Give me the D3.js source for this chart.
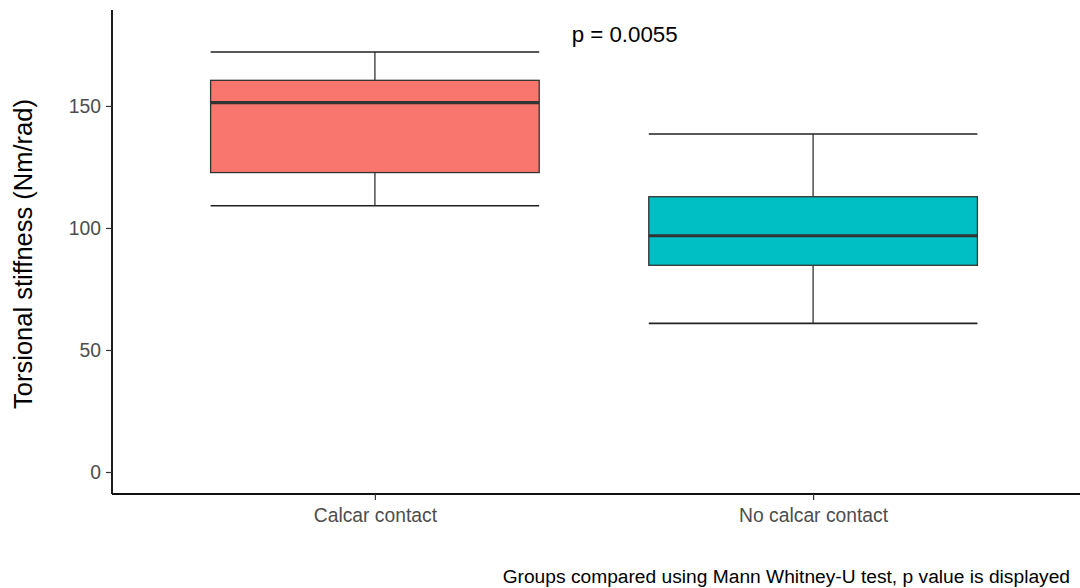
<!DOCTYPE html>
<html>
<head>
<meta charset="utf-8">
<script src="https://cdn.jsdelivr.net/npm/d3@7"></script>
<style>
  html, body { margin: 0; padding: 0; background: #fff; }
  svg { display: block; font-family: "Liberation Sans", Arial, sans-serif; }
</style>
</head>
<body>
<svg id="chart" width="1080" height="588"></svg>
<script>
// Box-plot summaries of torsional stiffness by group
const groups = ["Calcar contact", "No calcar contact"];
const lowerWhisker = [109.1, 60.9];
const q1 = [122.7, 84.7];
const median = [151.4, 96.8];
const q3 = [160.5, 112.8];
const upperWhisker = [172.1, 138.5];
const fills = ["#F8766D", "#00BFC4"];
const yTicks = [0, 50, 100, 150];
const pLabel = "p = 0.0055";
const pLabelPos = { x: 1.57, y: 176.4 };   // category units / data units (baseline)
const yTitle = "Torsional stiffness (Nm/rad)";
const caption = "Groups compared using Mann Whitney-U test, p value is displayed";

const svg = d3.select("#chart");
const plotLeft = 112, plotRight = 1076, plotTop = 10, plotBottom = 494;

// y range: data extent incl. 0 and label height, expanded 5%
const yMin = 0, yMax = 180.3, pad = (yMax - yMin) * 0.05;
const y = d3.scaleLinear().domain([yMin - pad, yMax + pad]).range([plotBottom, plotTop]);

// discrete x: categories at 1..n with 0.6 expansion each side
const xc = d3.scaleLinear().domain([0.4, groups.length + 0.6]).range([plotLeft, plotRight]);
const x = d3.scalePoint().domain(groups).range([xc(1), xc(groups.length)]);
const boxW = xc(1.375) - xc(1);

const g = svg.append("g");

groups.forEach((grp, i) => {
  const cx = x(grp);
  // whisker stems
  g.append("line").attr("x1", cx).attr("x2", cx)
    .attr("y1", y(upperWhisker[i])).attr("y2", y(q3[i]))
    .attr("stroke", "#333").attr("stroke-width", 1.3);
  g.append("line").attr("x1", cx).attr("x2", cx)
    .attr("y1", y(q1[i])).attr("y2", y(lowerWhisker[i]))
    .attr("stroke", "#333").attr("stroke-width", 1.3);
  // whisker caps
  [upperWhisker[i], lowerWhisker[i]].forEach(v => {
    g.append("line").attr("x1", cx - boxW).attr("x2", cx + boxW)
      .attr("y1", y(v)).attr("y2", y(v))
      .attr("stroke", "#222").attr("stroke-width", 1.6);
  });
  // box
  g.append("rect").attr("x", cx - boxW).attr("width", 2 * boxW)
    .attr("y", y(q3[i])).attr("height", y(q1[i]) - y(q3[i]))
    .attr("fill", fills[i]).attr("stroke", "#333").attr("stroke-width", 1.3);
  // median
  g.append("line").attr("x1", cx - boxW).attr("x2", cx + boxW)
    .attr("y1", y(median[i])).attr("y2", y(median[i]))
    .attr("stroke", "#333").attr("stroke-width", 3.2);
});

// axes
const yAxis = svg.append("g").attr("transform", `translate(${plotLeft},0)`)
  .call(d3.axisLeft(y).tickValues(yTicks).tickSize(6).tickPadding(5));
const xAxis = svg.append("g").attr("transform", `translate(0,${plotBottom})`)
  .call(d3.axisBottom(x).tickSize(6).tickPadding(8));

[yAxis, xAxis].forEach(ax => {
  ax.select(".domain").attr("stroke", "#111").attr("stroke-width", 1.9);
  ax.selectAll(".tick line").attr("stroke", "#333").attr("stroke-width", 1.2);
  ax.selectAll(".tick text").attr("fill", "#4d4d4d").attr("font-size", 19.3)
    .style("font-family", '"Liberation Sans", Arial, sans-serif');
});
yAxis.select(".domain").attr("d", `M0,${plotTop}V${plotBottom}`);
xAxis.select(".domain").attr("d", `M${plotLeft},0H${1080}`);

// y title
svg.append("text")
  .attr("transform", `translate(31.5,${(plotTop + plotBottom) / 2 + 2}) rotate(-90)`)
  .attr("text-anchor", "middle").attr("font-size", 25.5).attr("fill", "#000")
  .text(yTitle);

// p value annotation
svg.append("text")
  .attr("x", xc(pLabelPos.x)).attr("y", y(pLabelPos.y))
  .attr("text-anchor", "middle")
  .attr("font-size", 22.3).attr("fill", "#000")
  .text(pLabel);

// caption
svg.append("text")
  .attr("x", 1070).attr("y", 583).attr("text-anchor", "end")
  .attr("font-size", 19.2).attr("fill", "#000")
  .text(caption);
</script>
</body>
</html>
